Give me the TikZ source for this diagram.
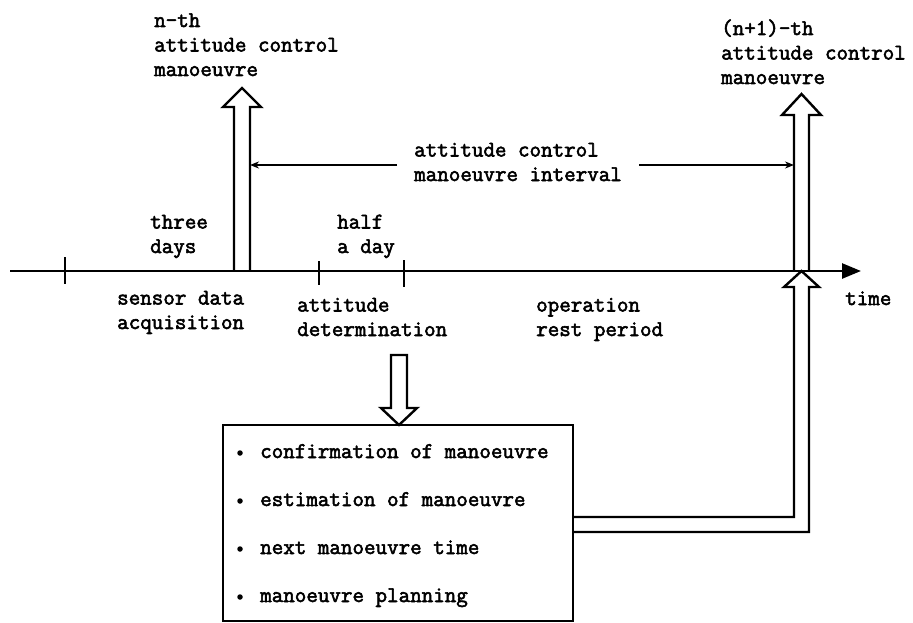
\documentclass[tikz,border=0pt]{standalone}
\usepackage{fontspec}
\usetikzlibrary{arrows.meta}
\newfontfamily\heavytt{Latin Modern Mono}[FakeBold=2.5]
\tikzset{
  lbl/.style={anchor=base west, inner sep=0pt, align=left,
    font=\heavytt\fontsize{22.4}{24.5}\selectfont},
  outline/.style={line width=2.4pt, line join=miter},
  axisline/.style={line width=2.6pt},
  tick/.style={line width=2.4pt},
  thin arrow/.style={line width=1.8pt, -{Stealth[length=9pt,width=7pt]}},
  bul/.style={circle, fill=black, inner sep=0pt, minimum size=5.5pt},
}
\begin{document}
\begin{tikzpicture}[x=1pt,y=-1pt]
\useasboundingbox (0,0) rectangle (913,623);
% time axis
\coordinate (a0) at (10,271);
\coordinate (a1) at (861,271);
\draw[axisline,-{Triangle[length=19pt,width=15pt]}] (a0) -- (a1);
\node[lbl] (tm) at (845,305) {time};
% ticks
\draw[tick] (65,257) -- (65,284);
\draw[tick] (319,261) -- (319,285);
\draw[tick] (404,260) -- (404,287);
% n-th manoeuvre arrow
\draw[outline] (234,271) -- (234,107) -- (223,107) -- (242,88) -- (261,107) -- (250,107) -- (250,271);
\node[lbl] (nth) at (154,76) {n-th\\attitude control\\manoeuvre};
% (n+1)-th manoeuvre arrow
\draw[outline] (794,271) -- (794,115) -- (782,115) -- (801.5,94) -- (821,115) -- (809,115) -- (809,271);
\node[lbl] (n1th) at (721,84) {(n+1)-th\\attitude control\\manoeuvre};
% interval
\node[lbl] (intv) at (414,181) {attitude control\\manoeuvre interval};
\coordinate (iL0) at (397,165);
\coordinate (iL1) at (250,165);
\coordinate (iR0) at (639,165);
\coordinate (iR1) at (794,165);
\draw[thin arrow] (iL0) -- (iL1);
\draw[thin arrow] (iR0) -- (iR1);
% durations
\node[lbl] (three) at (150,253) {three\\days};
\node[lbl] (half) at (337,253) {half\\a day};
% phases
\node[lbl] (sensor) at (117,329) {sensor data\\acquisition};
\node[lbl] (adet) at (297,336) {attitude\\determination};
\node[lbl] (rest) at (536,336) {operation\\rest period};
% down arrow into box
\draw[outline] (391,355) -- (407,355) -- (407,408) -- (417,408) -- (399,425) -- (381,408) -- (391,408) -- cycle;
% box
\draw[outline] (223,425) rectangle (573,621);
\node[bul] at (240,453) {};
\node[bul] at (240,501) {};
\node[bul] at (240,549) {};
\node[bul] at (240,597) {};
\node[lbl] (i1) at (260,458) {confirmation of manoeuvre};
\node[lbl] (i2) at (260,506) {estimation of manoeuvre};
\node[lbl] (i3) at (260,554) {next manoeuvre time};
\node[lbl] (i4) at (260,602) {manoeuvre planning};
% output double line to (n+1)-th
\draw[outline] (573,517) -- (794,517) -- (794,287) -- (784,287) -- (801.5,271) -- (819,287) -- (809,287) -- (809,532) -- (573,532);
\end{tikzpicture}
\end{document}
